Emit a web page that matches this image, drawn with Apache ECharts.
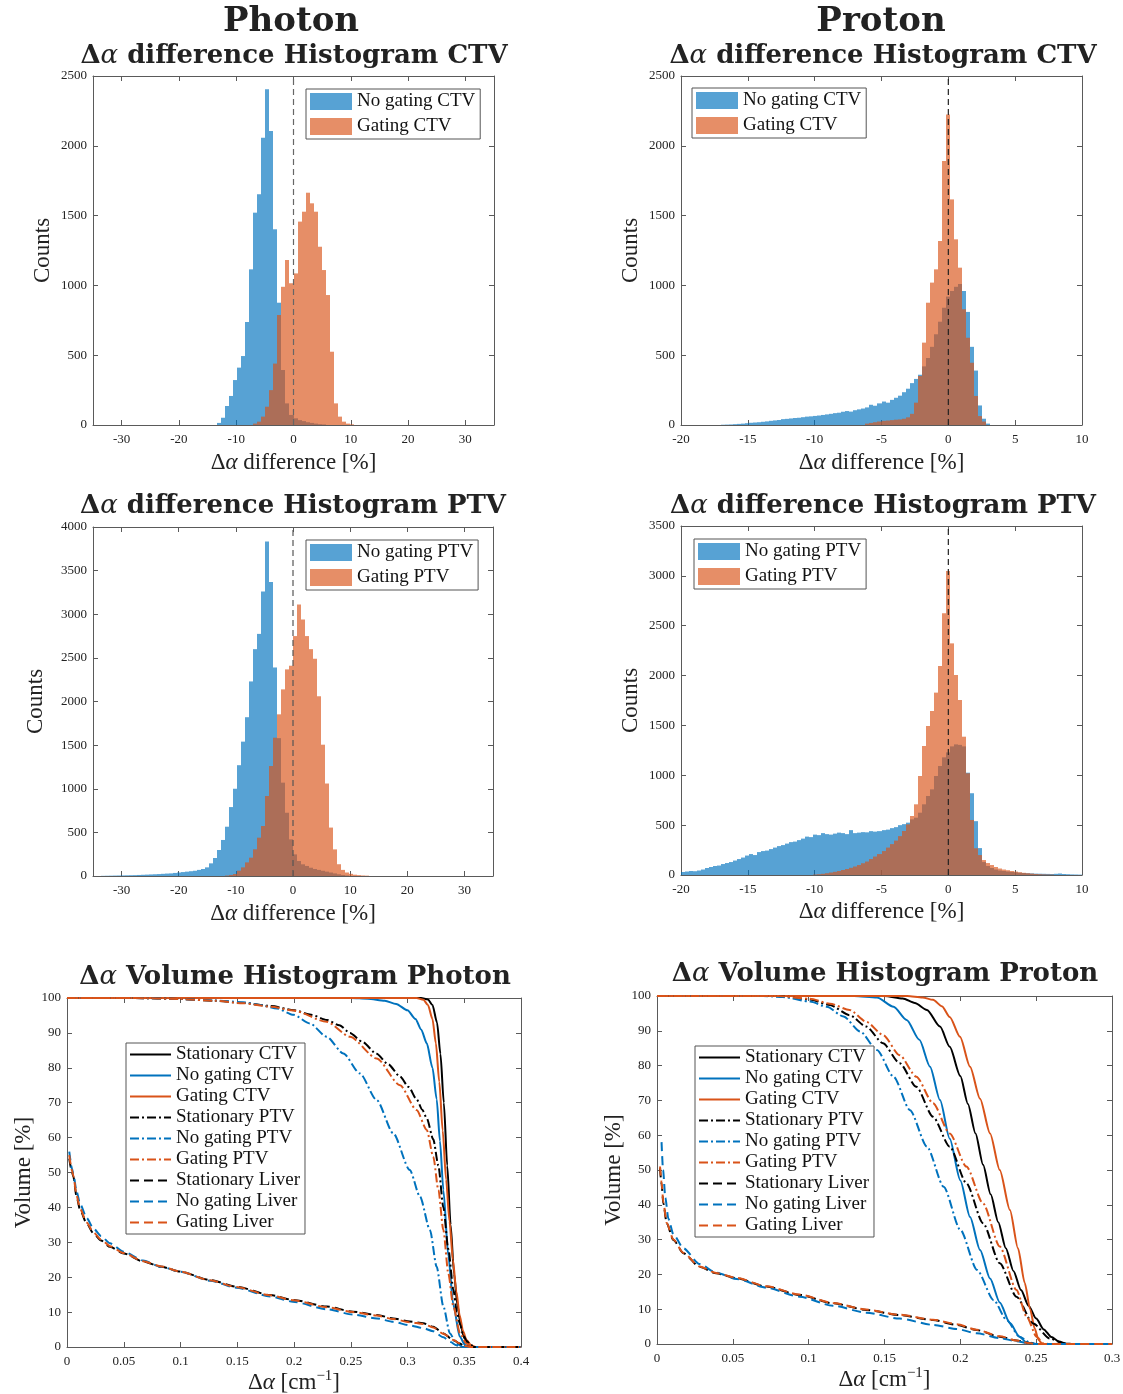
<!DOCTYPE html>
<html><head><meta charset="utf-8">
<script src="https://cdn.jsdelivr.net/npm/echarts@6/dist/echarts.min.js"></script>
<style>html,body{margin:0;padding:0;background:#fff}#c{width:1123px;height:1394px}</style>
</head><body><div id="c"></div>
<script>
// ---------------- DATA ----------------
// Photon histograms (bin width 0.7 %)
const phBinW = 0.7;
const phCtvNoGatStart = -13.3;
const phCtvNoGat = [15, 52, 136, 208, 322, 411, 494, 738, 1115, 1521, 1653, 2058, 2405, 2106, 1402, 876, 394, 155, 72, 48, 35, 28, 20, 15, 10, 6, 4];
const phCtvGatStart = -7.0;
const phCtvGat = [10, 24, 60, 131, 250, 440, 788, 990, 1182, 1015, 1086, 1457, 1528, 1664, 1588, 1528, 1277, 1110, 931, 525, 155, 60, 24, 10, 5];
const phPtvNoGatStart = -33.6;
const phPtvNoGat = [2, 3, 4, 5, 6, 7, 8, 9, 10, 12, 14, 16, 18, 20, 22, 25, 28, 30, 35, 40, 45, 50, 55, 60, 70, 80, 99, 145, 206, 298, 413, 565, 790, 1000, 1270, 1540, 1820, 2230, 2600, 2775, 3260, 3835, 3370, 2390, 1580, 1070, 725, 420, 248, 172, 134, 115, 95, 80, 70, 60, 50, 40, 30, 20, 12, 6];
const phPtvGatStart = -11.9;
const phPtvGat = [5, 12, 23, 61, 99, 156, 210, 306, 439, 573, 917, 1261, 1585, 1853, 2139, 2368, 2410, 2750, 3113, 2940, 2750, 2600, 2490, 2060, 1505, 1060, 555, 305, 135, 70, 40, 25, 15, 10, 6, 4];

// Proton histograms (bin width 0.3 %)
const prBinW = 0.3;
const prCtvNoGatStart = -17.0;
const prCtvNoGat = [
  2, 3, 4, 6, 8, 10, 13, 16, 18, 20,
  23, 26, 30, 33, 36, 42, 44, 47, 50, 52,
  56, 60, 62, 65, 68, 72, 76, 80, 85, 88,
  95, 100, 96, 106, 112, 118, 126, 145, 138, 155,
  168, 160, 180, 195, 210, 235, 260, 300, 330, 360,
  420, 480, 560, 650, 740, 840, 920, 960, 990, 1010,
  960, 810, 560, 390, 140, 45, 10];
const prCtvGatStart = -6.2;
const prCtvGat = [
  10, 15, 20, 25, 30, 32, 35, 38, 40, 45,
  55, 80, 160, 351, 590, 876, 1020, 1115, 1318, 1891,
  2225, 1616, 1330, 1127, 829, 625, 446, 208, 64, 25];
const prPtvNoGatStart = -20.0;
const prPtvNoGat = [
  30, 35, 40, 38, 45, 55, 70, 80, 90, 95,
  110, 120, 130, 145, 160, 175, 195, 210, 200, 230,
  240, 245, 260, 275, 290, 300, 315, 330, 335, 350,
  365, 385, 380, 405, 400, 420, 410, 405, 415, 425,
  420, 410, 450, 420, 425, 430, 428, 440, 435, 440,
  450, 455, 470, 480, 500, 510, 525, 558, 575, 625,
  709, 792, 859, 993, 1093, 1180, 1230, 1290, 1310, 1305,
  1290, 1026, 820, 540, 270, 130, 90, 70, 55, 45,
  40, 35, 30, 26, 22, 20, 18, 16, 14, 13,
  12, 11, 10, 12, 15, 10, 8, 6, 5, 4];
const prPtvGatStart = -10.1;
const prPtvGat = [
  5, 8, 12, 18, 25, 32, 40, 50, 60, 72,
  85, 100, 118, 135, 160, 185, 210, 240, 275, 310,
  345, 390, 441, 508, 592, 709, 993, 1294, 1494, 1645,
  1829, 2096, 2625, 3049, 2323, 2006, 1755, 1387, 1020, 552,
  268, 200, 150, 120, 100, 80, 65, 55, 48, 40,
  34, 28, 22, 18, 14, 10, 8, 6, 5, 4];

// Photon volume histogram curves [delta alpha (cm^-1), volume %]
const phStatCTV = [[0,100],[0.312,100],[0.318,99.6],[0.322,98],[0.326,93],[0.329,84],[0.332,70],[0.335,52],[0.338,35],[0.341,21],[0.344,12],[0.347,6],[0.350,2.5],[0.354,0.7],[0.358,0],[0.4,0]];
const phNoGatCTV = [[0,100],[0.25,100],[0.265,99.8],[0.28,99.2],[0.29,98.3],[0.30,96.5],[0.307,94],[0.312,91],[0.317,87],[0.322,80],[0.3257,71],[0.3286,59],[0.3316,45],[0.336,26],[0.3404,12],[0.346,3],[0.3507,0.6],[0.355,0],[0.4,0]];
const phGatCTV = [[0,100],[0.308,100],[0.314,99.5],[0.318,98],[0.322,94],[0.325,87],[0.328,76],[0.331,62],[0.334,48],[0.337,36],[0.340,25],[0.343,16],[0.346,9],[0.349,4.5],[0.352,2],[0.356,0.5],[0.36,0],[0.4,0]];
const phStatPTV = [[0,100],[0.06,100],[0.1,99.7],[0.13,99.2],[0.155,98.6],[0.18,97.7],[0.2,96.5],[0.215,95.2],[0.229,93.7],[0.24,92.2],[0.2493,90],[0.26,87.5],[0.2728,84],[0.283,81],[0.2934,77.5],[0.301,74.5],[0.308,71],[0.313,68],[0.317,65.5],[0.3227,59.5],[0.3272,52],[0.3316,40],[0.336,28],[0.3404,16.5],[0.3435,10],[0.3463,6.5],[0.349,3.5],[0.352,1.8],[0.356,0.5],[0.36,0],[0.4,0]];
const phNoGatPTV = [[0,100],[0.06,100],[0.1,99.7],[0.13,99.3],[0.155,98.8],[0.17,98],[0.185,97],[0.1994,95.2],[0.214,92.7],[0.2288,88.9],[0.2435,84.1],[0.258,78.4],[0.2728,70.8],[0.2875,61.2],[0.302,50.7],[0.311,43.1],[0.3198,33.5],[0.3257,23],[0.3316,11.6],[0.3374,3.9],[0.343,1],[0.349,0],[0.4,0]];
const phGatPTV = [[0,100],[0.06,100],[0.1,99.7],[0.13,99.2],[0.155,98.5],[0.18,97.5],[0.1994,96.4],[0.2288,93.2],[0.2493,88.9],[0.2728,82.7],[0.2934,75],[0.308,67.9],[0.317,62.2],[0.3227,54.5],[0.3272,45],[0.3316,33.5],[0.336,21],[0.3404,11.6],[0.3463,3.9],[0.352,1],[0.357,0],[0.4,0]];
const phStatLiver = [[0.002,54],[0.0045,50],[0.0056,48.8],[0.0085,43],[0.0115,39.3],[0.0173,35.4],[0.0232,32.6],[0.03,30.5],[0.0379,28.7],[0.05,26.8],[0.067,24.5],[0.083,23],[0.0996,21.6],[0.126,19.2],[0.149,17.3],[0.179,14.9],[0.199,13.5],[0.229,11.6],[0.252,10.1],[0.273,9.2],[0.2875,8.2],[0.302,7.3],[0.314,6.8],[0.3227,5.8],[0.3316,3.9],[0.3404,2],[0.346,1],[0.35,0.3],[0.355,0],[0.4,0]];
const phNoGatLiver = [[0.002,56],[0.0045,51],[0.0056,49.5],[0.0085,44.5],[0.0115,41],[0.0173,37],[0.0232,34],[0.03,31.8],[0.0379,29.7],[0.05,27.3],[0.067,24.8],[0.083,23],[0.0996,21.6],[0.126,19],[0.149,17],[0.179,14.5],[0.199,13],[0.229,10.8],[0.252,9.3],[0.273,8.2],[0.2875,7.2],[0.302,6.2],[0.314,5.4],[0.3227,4.5],[0.3316,2.8],[0.338,1.4],[0.343,0.5],[0.348,0],[0.4,0]];
const phGatLiver = [[0.002,55],[0.0045,50.5],[0.0056,49],[0.0085,43.3],[0.0115,39.6],[0.0173,35.7],[0.0232,32.9],[0.03,30.8],[0.0379,28.9],[0.05,26.9],[0.067,24.6],[0.083,23.1],[0.0996,21.6],[0.126,19.1],[0.149,17.2],[0.179,14.8],[0.199,13.4],[0.229,11.4],[0.252,10],[0.273,9],[0.2875,8],[0.302,7.1],[0.314,6.6],[0.3227,5.6],[0.3316,3.8],[0.3404,2],[0.346,1],[0.351,0.3],[0.356,0],[0.4,0]];

// Proton volume histogram curves
const prStatCTV = [[0,100],[0.15,100],[0.162,99.3],[0.17,98],[0.178,96],[0.1866,91.2],[0.193,85.4],[0.2,77],[0.205,69],[0.21,60.5],[0.215,51.5],[0.22,43],[0.225,35],[0.23,27.5],[0.235,21],[0.24,15.5],[0.245,11],[0.25,7.3],[0.255,4.2],[0.26,2],[0.265,0.7],[0.27,0.1],[0.274,0],[0.3,0]];
const prNoGatCTV = [[0,100],[0.13,100],[0.145,99.6],[0.156,96.9],[0.1646,93.1],[0.173,87.4],[0.18,79.7],[0.1866,70.1],[0.193,59],[0.2,47],[0.2064,36.5],[0.213,27],[0.2196,18.8],[0.226,11.9],[0.2327,6],[0.239,2.1],[0.2437,0.4],[0.248,0],[0.3,0]];
const prGatCTV = [[0,100],[0.165,100],[0.175,99.6],[0.182,98.9],[0.188,97],[0.193,94],[0.1998,88.3],[0.2064,79.7],[0.213,70.5],[0.2196,60.5],[0.226,50],[0.2327,38.5],[0.238,27.5],[0.2425,17.5],[0.246,10],[0.249,4.5],[0.2515,1.2],[0.254,0],[0.3,0]];
const prStatPTV = [[0,100],[0.08,100],[0.1009,99],[0.114,97.4],[0.127,94.5],[0.138,91.2],[0.149,86.4],[0.16,80.7],[0.171,73.9],[0.182,65.3],[0.193,56.7],[0.204,46.2],[0.215,34.7],[0.226,23.2],[0.237,13.6],[0.248,5.9],[0.259,1.6],[0.268,0.2],[0.272,0],[0.3,0]];
const prNoGatPTV = [[0,100],[0.07,100],[0.083,99.7],[0.1009,98.4],[0.112,96.9],[0.123,94.1],[0.134,89.8],[0.145,84.5],[0.156,76.8],[0.1668,67.2],[0.178,56.7],[0.189,45.2],[0.2,32.8],[0.211,21.3],[0.222,12.6],[0.2305,6.9],[0.239,2.1],[0.246,0.4],[0.25,0],[0.3,0]];
const prGatPTV = [[0,100],[0.08,100],[0.1009,99.2],[0.114,97.8],[0.127,96],[0.138,92.6],[0.149,88.8],[0.16,83],[0.171,76.8],[0.182,69.2],[0.193,60.5],[0.204,51],[0.215,40.4],[0.226,28],[0.237,15.5],[0.2437,7.9],[0.2503,2.1],[0.2547,0.2],[0.258,0],[0.3,0]];
const prStatLiver = [[0.002,50.5],[0.003,46],[0.0042,40.4],[0.0064,34.7],[0.0108,29.9],[0.0174,26.1],[0.028,22.2],[0.039,20.3],[0.0525,18.9],[0.072,16.5],[0.094,14.1],[0.116,11.7],[0.138,9.8],[0.16,8.3],[0.182,6.9],[0.1976,5.5],[0.2108,4],[0.226,2.1],[0.237,1],[0.246,0.2],[0.25,0],[0.3,0]];
const prNoGatLiver = [[0.003,58],[0.004,50],[0.0055,42],[0.0075,36],[0.0108,31.5],[0.0174,27.5],[0.028,23],[0.039,20.5],[0.0525,18.7],[0.072,16.2],[0.094,13.6],[0.116,11],[0.138,9],[0.16,7.3],[0.182,5.5],[0.1976,4.3],[0.2108,3.1],[0.226,1.7],[0.237,0.8],[0.245,0.2],[0.25,0],[0.3,0]];
const prGatLiver = [[0.002,51],[0.003,46.5],[0.0042,40.6],[0.0064,34.8],[0.0108,30],[0.0174,26.2],[0.028,22.3],[0.039,20.4],[0.0525,19],[0.072,16.6],[0.094,14.2],[0.116,11.8],[0.138,9.9],[0.16,8.4],[0.182,7],[0.1976,5.7],[0.2108,4.1],[0.226,2.2],[0.237,1],[0.246,0.2],[0.25,0],[0.3,0]];

// Text
const histXName = 'Δ{i|α} difference [%]';
const volXName = 'Δ{i|α} [cm{s|−1}]';
const photonXTicks = [-30, -20, -10, 0, 10, 20, 30];
const lineNames = ['Stationary CTV','No gating CTV','Gating CTV','Stationary PTV','No gating PTV','Gating PTV','Stationary Liver','No gating Liver','Gating Liver'];

// ---------------- STYLE ----------------
const FONT = 'Liberation Serif';
const TFONT = 'DejaVu Serif';
const ZW = '\u200B';
const BLUE_H = 'rgba(0,114,189,0.66)';
const ORANGE_H = 'rgba(217,83,25,0.66)';
const C_BLACK = '#000000', C_BLUE = '#0072BD', C_ORANGE = '#D95319';
const AX = '#5a5a5a';

function histData(start, w, counts) {
  return counts.map((c, i) => [+(start + i * w).toFixed(3), +(start + (i + 1) * w).toFixed(3), c]);
}
function histRender(color) {
  return function (params, api) {
    const a = api.coord([api.value(0), api.value(2)]);
    const b = api.coord([api.value(1), 0]);
    const x0 = Math.round(a[0]), x1 = Math.round(b[0]);
    return { type: 'rect', shape: { x: x0, y: a[1], width: x1 - x0, height: b[1] - a[1] }, style: { fill: color } };
  };
}
function histSeries(g, name, color, start, w, counts) {
  return { type: 'custom', name: name, xAxisIndex: 2 * g, yAxisIndex: 2 * g, silent: true, z: 2,
    data: histData(start, w, counts), encode: { x: [0, 1], y: 2 }, itemStyle: { color: color },
    renderItem: histRender(color) };
}
function zeroLine(g, ymax, color) {
  return { type: 'line', xAxisIndex: 2 * g, yAxisIndex: 2 * g, silent: true, z: 5, symbol: 'none',
    data: [[0, 0], [0, ymax]], lineStyle: { color: color, width: 1.2, type: [6, 4] } };
}
const DASHDOT = [9, 3, 2, 3], DASHED = [9, 5];
function lineSeries(g, name, color, type, data) {
  return { type: 'line', name: name, xAxisIndex: 2 * g, yAxisIndex: 2 * g, silent: true, z: 3, symbol: 'none',
    smooth: 0.25, smoothMonotone: 'x', clip: true, data: data, itemStyle: { color: color },
    lineStyle: { color: color, width: 2, type: type } };
}

const nameStyle = { fontFamily: FONT, fontSize: 23, color: '#222', lineHeight: 28,
  rich: { i: { fontFamily: FONT, fontSize: 23, fontStyle: 'italic', color: '#222', lineHeight: 28 },
          s: { fontFamily: FONT, fontSize: 15, color: '#222', lineHeight: 14, verticalAlign: 'top' } } };
const labelStyle = { fontFamily: FONT, fontSize: 13, color: '#222' };
const plainFmt = v => String(+(+v).toFixed(2));

const grids = [], xAxes = [], yAxes = [];
function panel(rect, o) {
  const g = grids.length;
  grids.push({ left: rect[0], top: rect[1], width: rect[2], height: rect[3], containLabel: false, outerBoundsMode: 'none' });
  const common = { type: 'value', gridIndex: g, min: o.xmin, max: o.xmax, splitLine: { show: false },
    axisLine: { show: true, onZero: false, lineStyle: { color: AX, width: 1 } } };
  const tick = { show: true, inside: true, length: 5, lineStyle: { color: AX, width: 1 } };
  const bx = Object.assign({}, common, { position: 'bottom',
    axisTick: Object.assign({}, tick), axisLabel: Object.assign({ show: true, margin: 8, formatter: plainFmt }, labelStyle),
    name: o.xname, nameLocation: 'middle', nameGap: o.xgap, nameTextStyle: nameStyle });
  const tx = Object.assign({}, common, { position: 'top', axisTick: Object.assign({}, tick), axisLabel: { show: false } });
  if (o.xcustom) {
    bx.axisTick.customValues = o.xcustom; bx.axisLabel.customValues = o.xcustom;
    tx.axisTick.customValues = o.xcustom;
  } else { bx.interval = o.xint; tx.interval = o.xint; }
  xAxes.push(bx, tx);
  const ycommon = { type: 'value', gridIndex: g, min: o.ymin, max: o.ymax, interval: o.yint, splitLine: { show: false },
    axisLine: { show: true, onZero: false, lineStyle: { color: AX, width: 1 } } };
  yAxes.push(Object.assign({}, ycommon, { position: 'left', axisTick: tick,
    axisLabel: Object.assign({ show: true, margin: 6, formatter: plainFmt }, labelStyle),
    name: o.yname, nameLocation: 'middle', nameGap: o.ygap, nameTextStyle: nameStyle }));
  yAxes.push(Object.assign({}, ycommon, { position: 'right', axisTick: tick, axisLabel: { show: false } }));
  return g;
}

const gPhC = panel([93, 76, 401, 349], { xmin: -35, xmax: 35, xcustom: photonXTicks, ymin: 0, ymax: 2500, yint: 500, xname: histXName, xgap: 24, yname: 'Counts', ygap: 36 });
const gPrC = panel([681, 76, 401, 349], { xmin: -20, xmax: 10, xint: 5, ymin: 0, ymax: 2500, yint: 500, xname: histXName, xgap: 24, yname: 'Counts', ygap: 36 });
const gPhP = panel([93, 527, 400, 349], { xmin: -35, xmax: 35, xcustom: photonXTicks, ymin: 0, ymax: 4000, yint: 500, xname: histXName, xgap: 24, yname: 'Counts', ygap: 43 });
const gPrP = panel([681, 526, 401, 349], { xmin: -20, xmax: 10, xint: 5, ymin: 0, ymax: 3500, yint: 500, xname: histXName, xgap: 23, yname: 'Counts', ygap: 23 });
const gPhV = panel([67, 998, 454, 349], { xmin: 0, xmax: 0.4, xint: 0.05, ymin: 0, ymax: 100, yint: 10, xname: volXName, xgap: 22, yname: 'Volume [%]', ygap: 29 });
const gPrV = panel([657, 996, 455, 348], { xmin: 0, xmax: 0.3, xint: 0.05, ymin: 0, ymax: 100, yint: 10, xname: volXName, xgap: 22, yname: 'Volume [%]', ygap: 27 });

const series = [
  histSeries(gPhC, 'No gating CTV' + ZW, BLUE_H, phCtvNoGatStart, phBinW, phCtvNoGat),
  histSeries(gPhC, 'Gating CTV' + ZW, ORANGE_H, phCtvGatStart, phBinW, phCtvGat),
  zeroLine(gPhC, 2500, '#666'),
  histSeries(gPrC, 'No gating CTV' + ZW, BLUE_H, prCtvNoGatStart, prBinW, prCtvNoGat),
  histSeries(gPrC, 'Gating CTV' + ZW, ORANGE_H, prCtvGatStart, prBinW, prCtvGat),
  zeroLine(gPrC, 2500, '#222'),
  histSeries(gPhP, 'No gating PTV' + ZW, BLUE_H, phPtvNoGatStart, phBinW, phPtvNoGat),
  histSeries(gPhP, 'Gating PTV' + ZW, ORANGE_H, phPtvGatStart, phBinW, phPtvGat),
  zeroLine(gPhP, 4000, '#555'),
  histSeries(gPrP, 'No gating PTV' + ZW, BLUE_H, prPtvNoGatStart, prBinW, prPtvNoGat),
  histSeries(gPrP, 'Gating PTV' + ZW, ORANGE_H, prPtvGatStart, prBinW, prPtvGat),
  zeroLine(gPrP, 3500, '#222')
];
const phCurves = [phStatCTV, phNoGatCTV, phGatCTV, phStatPTV, phNoGatPTV, phGatPTV, phStatLiver, phNoGatLiver, phGatLiver];
const prCurves = [prStatCTV, prNoGatCTV, prGatCTV, prStatPTV, prNoGatPTV, prGatPTV, prStatLiver, prNoGatLiver, prGatLiver];
const curveColors = [C_BLACK, C_BLUE, C_ORANGE];
const curveTypes = ['solid', DASHDOT, DASHED];
lineNames.forEach((n, i) => series.push(lineSeries(gPhV, n, curveColors[i % 3], curveTypes[Math.floor(i / 3)], phCurves[i])));
lineNames.forEach((n, i) => series.push(lineSeries(gPrV, n, curveColors[i % 3], curveTypes[Math.floor(i / 3)], prCurves[i])));

function histLegend(left, top, names) {
  return { orient: 'vertical', left: left, top: top, data: names, icon: 'rect', itemWidth: 42, itemHeight: 17,
    itemGap: 6, padding: [3, 5, 3, 4], borderColor: '#555', borderWidth: 1, backgroundColor: '#fff',
    selectedMode: false, textStyle: { fontFamily: FONT, fontSize: 19, color: '#111' } };
}
function lineLegend(left, top) {
  return { orient: 'vertical', left: left, top: top, data: lineNames, itemWidth: 41, itemHeight: 12,
    itemGap: 2, padding: [2, 5, 2, 3], borderColor: '#555', borderWidth: 1, backgroundColor: '#fff',
    selectedMode: false, itemStyle: { opacity: 0 },
    textStyle: { fontFamily: FONT, fontSize: 19, color: '#111', lineHeight: 19 } };
}
const legends = [
  histLegend(306, 89, ['No gating CTV' + ZW, 'Gating CTV' + ZW]),
  histLegend(692, 88, ['No gating CTV' + ZW, 'Gating CTV' + ZW]),
  histLegend(306, 540, ['No gating PTV' + ZW, 'Gating PTV' + ZW]),
  histLegend(694, 539, ['No gating PTV' + ZW, 'Gating PTV' + ZW]),
  lineLegend(126, 1043),
  lineLegend(695, 1046)
];

function tText(text, x, y, size) {
  return { type: 'text', x: x, y: y, silent: true, z: 10,
    style: { text: text, fill: '#222', fontFamily: TFONT, fontWeight: 'bold', fontSize: size,
      align: 'center', verticalAlign: 'middle', textAlign: 'center', textVerticalAlign: 'middle',
      rich: { i: { fontFamily: TFONT, fontSize: size, fontStyle: 'italic', fontWeight: 'normal', fill: '#222', color: '#222' } } } };
}
const graphics = [
  tText('Photon', 291, 22, 34),
  tText('Proton', 881, 22, 34),
  tText('Δ{i|α} difference Histogram CTV', 294, 56, 26),
  tText('Δ{i|α} difference Histogram CTV', 883, 56, 26),
  tText('Δ{i|α} difference Histogram PTV', 293, 506, 26),
  tText('Δ{i|α} difference Histogram PTV', 883, 506, 26),
  tText('Δ{i|α} Volume Histogram Photon', 295, 977, 26),
  tText('Δ{i|α} Volume Histogram Proton', 885, 974, 26)
];

const chart = echarts.init(document.getElementById('c'), null, { renderer: 'canvas' });
chart.setOption({
  animation: false, backgroundColor: '#ffffff',
  grid: grids, xAxis: xAxes, yAxis: yAxes, legend: legends, series: series, graphic: graphics
});
</script></body></html>
